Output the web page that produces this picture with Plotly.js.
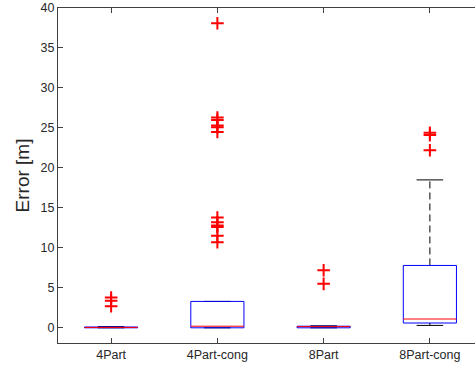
<!DOCTYPE html>
<html>
<head>
<meta charset="utf-8">
<script src="https://cdn.plot.ly/plotly-3.0.1.min.js"></script>
<style>
html,body{margin:0;padding:0;overflow:hidden;background:#fff;}
#chart{width:484px;height:368px;}
</style>
</head>
<body>
<div id="chart"></div>
<script>
const categories = ['4Part', '4Part-cong', '8Part', '8Part-cong'];
const q1 = [0.0, 0.0, 0.0, 0.6];
const medians = [0.05, 0.2, 0.15, 1.1];
const q3 = [0.1, 3.3, 0.2, 7.8];
const lowerWhisker = [0.0, 0.0, 0.0, 0.3];
const upperWhisker = [0.15, 3.3, 0.25, 18.5];
const outliers = [
  [3.8, 3.4, 2.7],
  [38.1, 26.3, 26.0, 25.3, 25.1, 24.5, 13.8, 13.2, 12.8, 12.6, 11.5, 10.7],
  [7.2, 5.5],
  [24.4, 24.1, 22.2]
];

const halfBox = 0.25, halfCap = 0.125;
const traces = [];
const wx = [], wy = [], cx = [], cy = [], bx = [], by = [], mx = [], my = [], ox = [], oy = [];
categories.forEach((c, i) => {
  const x = i + 1;
  wx.push(x, x, null, x, x, null);
  wy.push(q3[i], upperWhisker[i], null, q1[i], lowerWhisker[i], null);
  cx.push(x - halfCap, x + halfCap, null, x - halfCap, x + halfCap, null);
  cy.push(upperWhisker[i], upperWhisker[i], null, lowerWhisker[i], lowerWhisker[i], null);
  bx.push(x - halfBox, x + halfBox, x + halfBox, x - halfBox, x - halfBox, null);
  by.push(q1[i], q1[i], q3[i], q3[i], q1[i], null);
  mx.push(x - halfBox, x + halfBox, null);
  my.push(medians[i], medians[i], null);
  outliers[i].forEach(v => { ox.push(x); oy.push(v); });
});
traces.push({x: wx, y: wy, mode: 'lines', line: {color: '#000000', width: 1, dash: '7px,4px'}, hoverinfo: 'skip'});
traces.push({x: cx, y: cy, mode: 'lines', line: {color: '#000000', width: 1}, hoverinfo: 'skip'});
traces.push({x: bx, y: by, mode: 'lines', line: {color: '#0000ff', width: 1}, hoverinfo: 'skip'});
traces.push({x: mx, y: my, mode: 'lines', line: {color: '#ff0000', width: 1}, hoverinfo: 'skip'});
traces.push({x: ox, y: oy, mode: 'markers', marker: {symbol: 'cross-thin', size: 9, line: {color: '#ff0000', width: 2}}, hoverinfo: 'skip'});

const font = {family: '"Liberation Sans", Arial, Helvetica, sans-serif', size: 12.5, color: '#262626'};
const layout = {
  width: 484, height: 368,
  margin: {l: 58, r: 1, t: 8, b: 25},
  showlegend: false,
  paper_bgcolor: '#ffffff', plot_bgcolor: '#ffffff',
  font: font,
  xaxis: {
    range: [0.5, 4.5], tickvals: [1, 2, 3, 4], ticktext: categories,
    showgrid: false, zeroline: false, showline: true, linecolor: '#404040', linewidth: 1,
    mirror: 'ticks', ticks: 'inside', ticklen: 5, tickcolor: '#404040', tickfont: font
  },
  yaxis: {
    range: [-1.9, 40], tickvals: [0, 5, 10, 15, 20, 25, 30, 35, 40],
    showgrid: false, zeroline: false, showline: true, linecolor: '#404040', linewidth: 1,
    mirror: 'ticks', ticks: 'inside', ticklen: 5, tickcolor: '#404040', tickfont: font,
    title: {text: 'Error [m]', font: {family: font.family, size: 19, color: '#262626'}, standoff: 5}
  }
};
Plotly.newPlot('chart', traces, layout, {displayModeBar: false, staticPlot: true});
</script>
</body>
</html>
